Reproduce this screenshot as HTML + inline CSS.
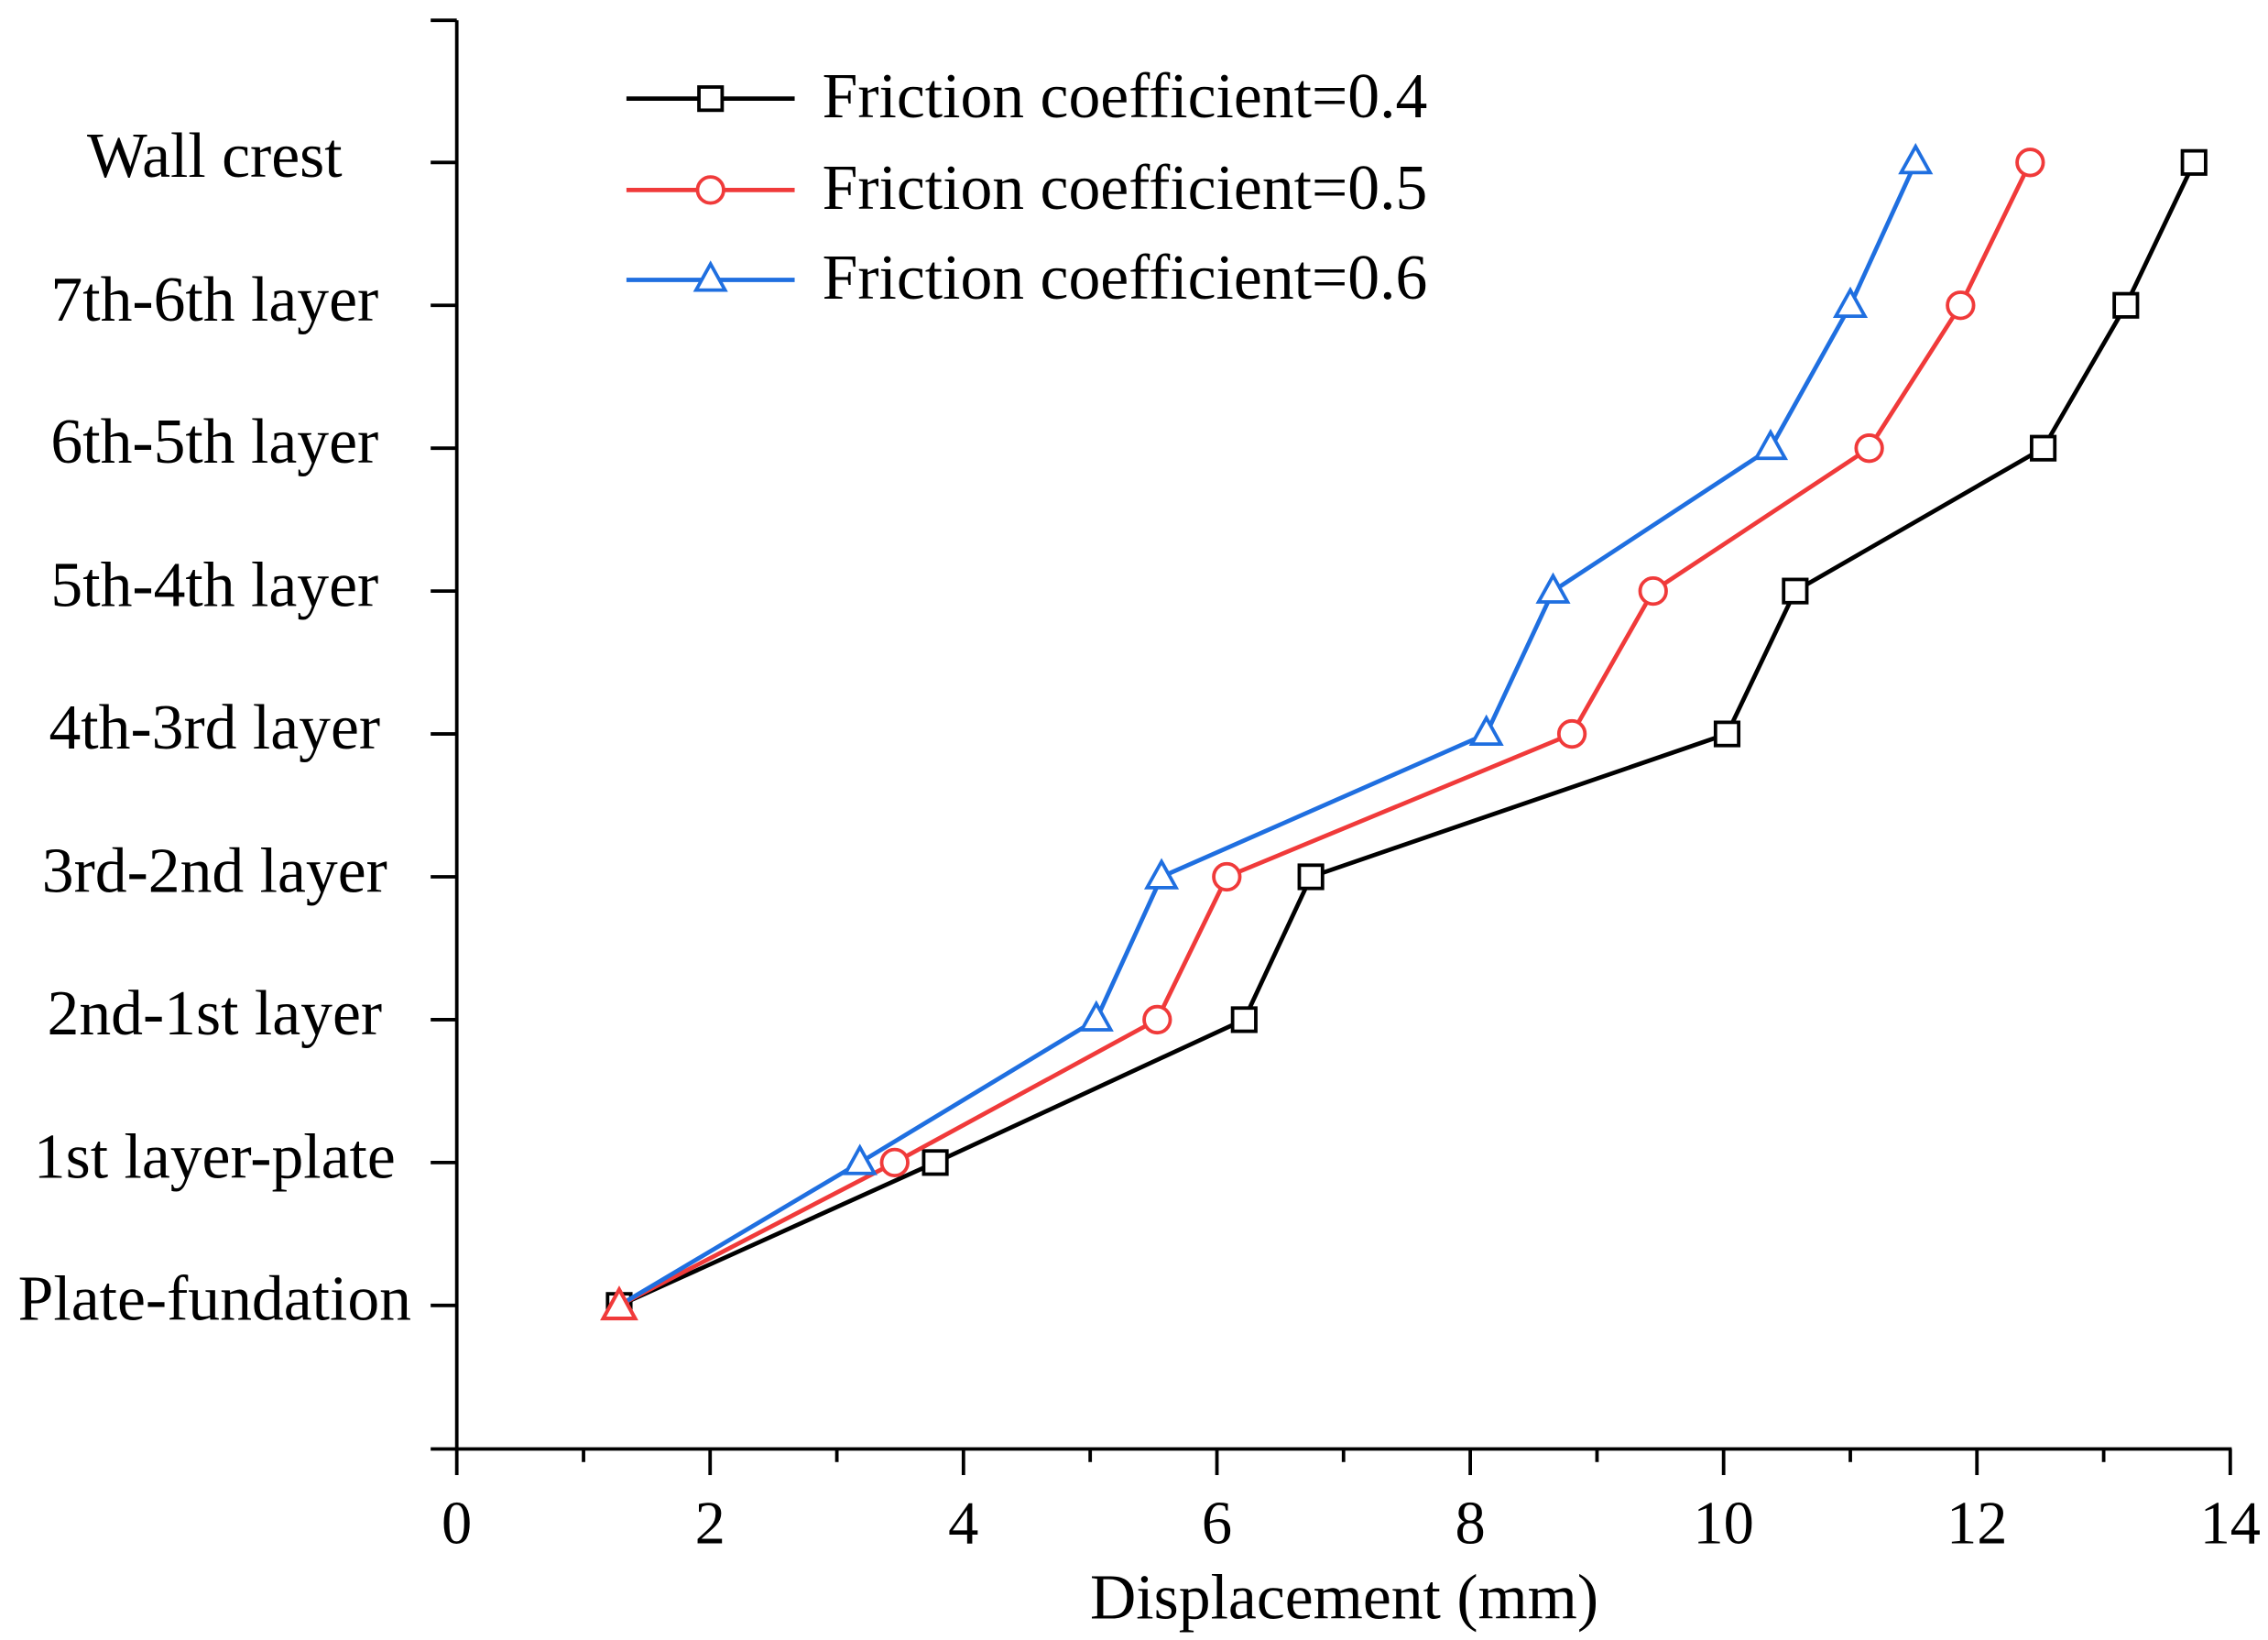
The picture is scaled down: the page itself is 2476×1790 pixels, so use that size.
<!DOCTYPE html>
<html><head><style>html,body{margin:0;padding:0;background:#fff}svg{display:block}</style></head>
<body>
<svg width="2476" height="1790" viewBox="0 0 2476 1790" xmlns="http://www.w3.org/2000/svg">
<g transform="scale(1.5831)" font-family="Liberation Serif, serif" fill="#000">
<rect x="0" y="0" width="1564" height="1131" fill="#fff"/>
<g stroke="#000" stroke-width="2.4" fill="none">
<line x1="315" y1="14" x2="315" y2="999"/>
<line x1="297" y1="999" x2="1539" y2="999"/>
<line x1="297" y1="14" x2="315" y2="14"/>
<line x1="297" y1="112" x2="315" y2="112"/>
<line x1="297" y1="210.5" x2="315" y2="210.5"/>
<line x1="297" y1="309" x2="315" y2="309"/>
<line x1="297" y1="407.5" x2="315" y2="407.5"/>
<line x1="297" y1="506" x2="315" y2="506"/>
<line x1="297" y1="604.5" x2="315" y2="604.5"/>
<line x1="297" y1="703" x2="315" y2="703"/>
<line x1="297" y1="801.5" x2="315" y2="801.5"/>
<line x1="297" y1="900" x2="315" y2="900"/>
<line x1="315" y1="999" x2="315" y2="1017"/>
<line x1="489.7" y1="999" x2="489.7" y2="1017"/>
<line x1="664.4" y1="999" x2="664.4" y2="1017"/>
<line x1="839.2" y1="999" x2="839.2" y2="1017"/>
<line x1="1013.9" y1="999" x2="1013.9" y2="1017"/>
<line x1="1188.6" y1="999" x2="1188.6" y2="1017"/>
<line x1="1363.3" y1="999" x2="1363.3" y2="1017"/>
<line x1="1538" y1="999" x2="1538" y2="1017"/>
<line x1="402.4" y1="999" x2="402.4" y2="1008"/>
<line x1="577.1" y1="999" x2="577.1" y2="1008"/>
<line x1="751.8" y1="999" x2="751.8" y2="1008"/>
<line x1="926.5" y1="999" x2="926.5" y2="1008"/>
<line x1="1101.3" y1="999" x2="1101.3" y2="1008"/>
<line x1="1276" y1="999" x2="1276" y2="1008"/>
<line x1="1450.7" y1="999" x2="1450.7" y2="1008"/>
</g>
<g font-size="44" text-anchor="middle">
<text x="148" y="122">Wall crest</text>
<text x="148" y="221">7th-6th layer</text>
<text x="148" y="319">6th-5th layer</text>
<text x="148" y="418">5th-4th layer</text>
<text x="148" y="516">4th-3rd layer</text>
<text x="148" y="615">3rd-2nd layer</text>
<text x="148" y="713">2nd-1st layer</text>
<text x="148" y="812">1st layer-plate</text>
<text x="148" y="910">Plate-fundation</text>
</g>
<g font-size="42" text-anchor="middle">
<text x="315" y="1064">0</text>
<text x="489.7" y="1064">2</text>
<text x="664.4" y="1064">4</text>
<text x="839.2" y="1064">6</text>
<text x="1013.9" y="1064">8</text>
<text x="1188.6" y="1064">10</text>
<text x="1363.3" y="1064">12</text>
<text x="1538" y="1064">14</text>
<text x="927" y="1116" font-size="44">Displacement (mm)</text>
</g>
<polyline fill="none" stroke="#000" stroke-width="3" points="427,900 645,801.5 858,703 904,604.5 1191,506 1238,407.5 1409,309 1466,210.5 1513,112"/>
<g fill="#fff" stroke="#000" stroke-width="2.4">
<rect x="419" y="892" width="16" height="16"/><rect x="637" y="793.5" width="16" height="16"/><rect x="850" y="695" width="16" height="16"/><rect x="896" y="596.5" width="16" height="16"/><rect x="1183" y="498" width="16" height="16"/><rect x="1230" y="399.5" width="16" height="16"/><rect x="1401" y="301" width="16" height="16"/><rect x="1458" y="202.5" width="16" height="16"/><rect x="1505" y="104" width="16" height="16"/>
</g>
<polyline fill="none" stroke="#f03a3a" stroke-width="3" points="427,900 617,801.5 798,703 846,604.5 1084,506 1140,407.5 1289,309 1352,210.5 1400,112"/>
<g fill="#fff" stroke="#f03a3a" stroke-width="2.4">
<circle cx="617" cy="801.5" r="9"/><circle cx="798" cy="703" r="9"/><circle cx="846" cy="604.5" r="9"/><circle cx="1084" cy="506" r="9"/><circle cx="1140" cy="407.5" r="9"/><circle cx="1289" cy="309" r="9"/><circle cx="1352" cy="210.5" r="9"/><circle cx="1400" cy="112" r="9"/>
</g>
<polyline fill="none" stroke="#1f6fe0" stroke-width="3" points="427,900 593,801.5 756,703 801,604.5 1025,506 1071,407.5 1221,309 1276,210.5 1321,112"/>
<g fill="#fff" stroke="#1f6fe0" stroke-width="2.4">
<polygon points="593,791 583,809 603,809"/><polygon points="756,692 746,710 766,710"/><polygon points="801,594 791,612 811,612"/><polygon points="1025,495 1015,513 1035,513"/><polygon points="1071,397 1061,415 1081,415"/><polygon points="1221,298 1211,316 1231,316"/><polygon points="1276,200 1266,218 1286,218"/><polygon points="1321,101 1311,119 1331,119"/>
</g>
<polygon points="427,889 416,909 438,909" fill="#fff" stroke="#f03a3a" stroke-width="2.6"/>
<line x1="432" y1="68" x2="548" y2="68" stroke="#000" stroke-width="3"/>
<rect x="482" y="60" width="16" height="16" fill="#fff" stroke="#000" stroke-width="2.4"/>
<line x1="432" y1="131" x2="548" y2="131" stroke="#f03a3a" stroke-width="3"/>
<circle cx="490" cy="131" r="9" fill="#fff" stroke="#f03a3a" stroke-width="2.4"/>
<line x1="432" y1="193" x2="548" y2="193" stroke="#1f6fe0" stroke-width="3"/>
<polygon points="490,182 480,200 500,200" fill="#fff" stroke="#1f6fe0" stroke-width="2.4"/>
<g font-size="44">
<text x="567" y="81">Friction coefficient=0.4</text>
<text x="567" y="144">Friction coefficient=0.5</text>
<text x="567" y="206">Friction coefficient=0.6</text>
</g>
</g>
</svg>
</body></html>
